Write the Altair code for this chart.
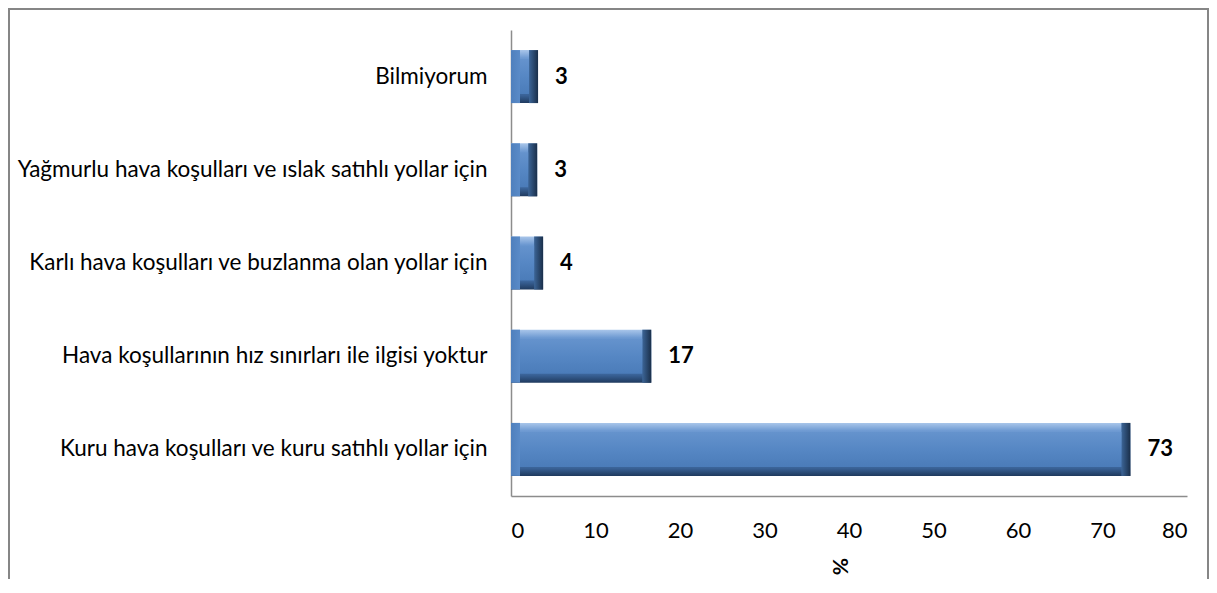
import altair as alt
import pandas as pd

categories = [
    "Bilmiyorum",
    "Yağmurlu hava koşulları ve ıslak satıhlı yollar için",
    "Karlı hava koşulları ve buzlanma olan yollar için",
    "Hava koşullarının hız sınırları ile ilgisi yoktur",
    "Kuru hava koşulları ve kuru satıhlı yollar için",
]
values = [3.2, 3.1, 3.8, 16.6, 73.3]
labels = ["3", "3", "4", "17", "73"]
x_ticks = [0, 10, 20, 30, 40, 50, 60, 70, 80]

df = pd.DataFrame({"cat": categories, "v": values, "lab": labels, "zero": [0] * len(values)})

FONT = "Lato"

y_enc = alt.Y(
    "cat:N",
    sort=categories,
    scale=alt.Scale(paddingInner=0.43, paddingOuter=0.215),
    axis=alt.Axis(
        title=None,
        labelFont=FONT,
        labelFontSize=22.5,
        labelColor="#000000",
        labelPadding=24,
        labelLimit=600,
        ticks=False,
        domainColor="#8c8c8c",
        domainWidth=1.5,
        grid=False,
    ),
)

x_enc = alt.X(
    "v:Q",
    scale=alt.Scale(domain=[0, 80], nice=False),
    axis=alt.Axis(
        values=x_ticks,
        title="%",
        titleFont=FONT,
        titleFontSize=21,
        titleFontWeight="bold",
        titleAngle=90,
        titlePadding=25,
        titleColor="#000000",
        labelFont=FONT,
        labelFontSize=22,
        labelColor="#000000",
        labelPadding=24,
        ticks=False,
        domainColor="#8c8c8c",
        domainWidth=1.5,
        grid=False,
    ),
)

base = alt.Chart(df)

outer = base.mark_bar(
    size=53,
    color=alt.LinearGradient(
        gradient="linear",
        x1=0, x2=0, y1=0, y2=1,
        stops=[
            alt.GradientStop(color="#a9c6ea", offset=0),
            alt.GradientStop(color="#6e9ad2", offset=0.15),
            alt.GradientStop(color="#4f81bd", offset=0.5),
            alt.GradientStop(color="#3a6398", offset=0.85),
            alt.GradientStop(color="#1f3a5e", offset=1),
        ],
    ),
).encode(y=y_enc, x=x_enc, x2="zero:Q")

left_edge = base.mark_bar(
    size=53,
    xOffset=9,
    color=alt.LinearGradient(
        gradient="linear",
        x1=0, x2=1, y1=0, y2=0,
        stops=[
            alt.GradientStop(color="#4f80bd", offset=0),
            alt.GradientStop(color="#5a8bc8", offset=1),
        ],
    ),
).encode(y=y_enc, x=alt.X("zero:Q"), x2="zero:Q")

right_edge = base.mark_bar(
    size=53,
    x2Offset=-9,
    color=alt.LinearGradient(
        gradient="linear",
        x1=0, x2=1, y1=0, y2=0,
        stops=[
            alt.GradientStop(color="#3c6597", offset=0),
            alt.GradientStop(color="#1a2f4a", offset=1),
        ],
    ),
).encode(y=y_enc, x=x_enc, x2="v:Q")

inner = base.mark_bar(
    size=35,
    xOffset=-9,
    x2Offset=9,
    color=alt.LinearGradient(
        gradient="linear",
        x1=0, x2=0, y1=0, y2=1,
        stops=[
            alt.GradientStop(color="#6593cd", offset=0),
            alt.GradientStop(color="#5687c4", offset=0.5),
            alt.GradientStop(color="#4b7cb9", offset=1),
        ],
    ),
).encode(y=y_enc, x=x_enc, x2="zero:Q")

text = base.mark_text(
    align="left",
    baseline="middle",
    dx=17,
    font=FONT,
    fontSize=22,
    fontWeight="bold",
    color="#000000",
).encode(y=y_enc, x=x_enc, text="lab:N")

frame_src = alt.Chart(alt.Data(values=[{"a": 1}]))
frame_top = frame_src.mark_rule(stroke="#868686", strokeWidth=2).encode(
    x=alt.value(-502), x2=alt.value(697), y=alt.value(-21)
)
frame_left = frame_src.mark_rule(stroke="#868686", strokeWidth=2).encode(
    x=alt.value(-502), y=alt.value(-22), y2=alt.value(580)
)
frame_right = frame_src.mark_rule(stroke="#868686", strokeWidth=2).encode(
    x=alt.value(697), y=alt.value(-22), y2=alt.value(580)
)

chart = (
    alt.layer(frame_top, frame_left, frame_right, outer, left_edge, right_edge, inner, text)
    .properties(
        width=676,
        height=466,
        autosize=alt.AutoSizeParams(type="none"),
        padding={"left": 503, "top": 22, "right": 22, "bottom": 83},
        background="#ffffff",
    )
    .configure_view(stroke=None)
)

chart.save("out.html", embed_options={"renderer": "svg", "actions": False})
